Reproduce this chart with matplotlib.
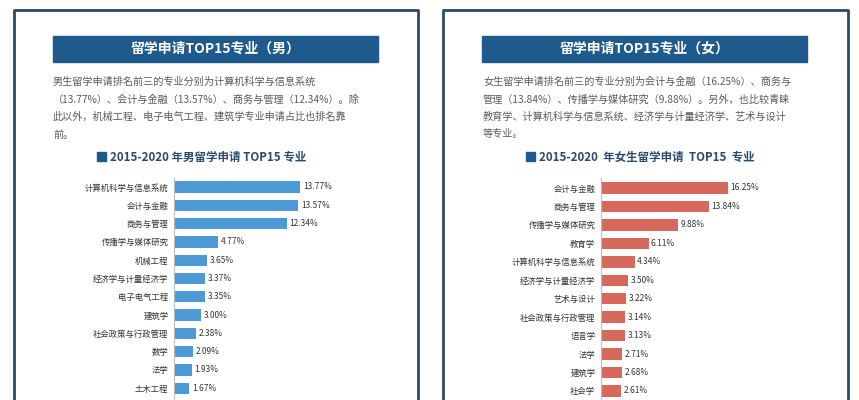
import matplotlib.pyplot as plt
from matplotlib import font_manager
from matplotlib.patches import Rectangle

# pick whatever CJK face is really there
cjk = [f.name for f in font_manager.fontManager.ttflist if 'CJK' in f.name]
fams = ['Noto Sans CJK SC', 'Noto Sans CJK JP'] + cjk + ['DejaVu Sans']
avail = {f.name for f in font_manager.fontManager.ttflist}
plt.rcParams['font.family'] = [f for f in fams if f in avail] or ['DejaVu Sans']

W, H = 859, 400

male_majors = ['计算机科学与信息系统', '会计与金融', '商务与管理', '传播学与媒体研究', '机械工程',
               '经济学与计量经济学', '电子电气工程', '建筑学', '社会政策与行政管理', '数学', '法学', '土木工程']
male_values = [13.77, 13.57, 12.34, 4.77, 3.65, 3.37, 3.35, 3.00, 2.38, 2.09, 1.93, 1.67]

female_majors = ['会计与金融', '商务与管理', '传播学与媒体研究', '教育学', '计算机科学与信息系统',
                 '经济学与计量经济学', '艺术与设计', '社会政策与行政管理', '语言学', '法学', '建筑学', '社会学']
female_values = [16.25, 13.84, 9.88, 6.11, 4.34, 3.50, 3.22, 3.14, 3.13, 2.71, 2.68, 2.61]

male_text = ['男生留学申请排名前三的专业分别为计算机科学与信息系统',
             '（13.77%）、会计与金融（13.57%）、商务与管理（12.34%）。除',
             '此以外，机械工程、电子电气工程、建筑学专业申请占比也排名靠',
             '前。']
female_text = ['女生留学申请排名前三的专业分别为会计与金融（16.25%）、商务与',
               '管理（13.84%）、传播学与媒体研究（9.88%）。另外，也比较青睐',
               '教育学、计算机科学与信息系统、经济学与计量经济学、艺术与设计',
               '等专业。']

fig = plt.figure(figsize=(W / 100, H / 100), dpi=100)
fig.patch.set_facecolor('white')
bg = fig.add_axes([0, 0, 1, 1])
bg.set_xlim(0, W)
bg.set_ylim(H, 0)
bg.axis('off')

DARK = '#1f5a8c'
GRAY = '#5a5a5a'


def panel(x0, x1, title, lines, subtitle, tx, sq):
    bg.plot([x0, x0, x1, x1], [H + 5, 10, 10, H + 5], color='#2d4a66', lw=2)
    bg.add_patch(Rectangle((x0 + 39, 36), 325, 26, color=DARK))
    bg.text((x0 + 39 + x0 + 364) / 2, 49, title, color='white', fontsize=10,
            fontweight='bold', ha='center', va='center')
    for i, ln in enumerate(lines):
        bg.text(tx, 82 + i * 17.5, ln, color=GRAY, fontsize=7.3, va='center')
    bg.add_patch(Rectangle((sq, 152), 9, 9, color=DARK))
    bg.text(sq + 13, 157, subtitle, color='#2a4a6a', fontsize=8.3,
            fontweight='bold', va='center')


panel(14, 418, '留学申请TOP15专业（男）', male_text, '2015-2020 年男留学申请 TOP15 专业', 53, 97)
panel(443, 848, '留学申请TOP15专业（女）', female_text, '2015-2020  年女生留学申请  TOP15  专业', 483, 526)


def bars(left, y0, step, pxper, names, vals, color):
    top, width = 178, 200
    ax = fig.add_axes([left / W, 0, width / W, (H - top) / H])
    ax.set_xlim(0, width / pxper)
    ax.set_ylim((H - y0) / step, (top - y0) / step)
    pos = list(range(len(vals)))
    ax.barh(pos, vals, height=0.62, color=color)
    for p, v in zip(pos, vals):
        ax.text(v + 0.3, p, f'{v:.2f}%', fontsize=6, color='#333333', va='center')
    ax.set_yticks(pos)
    ax.set_yticklabels(names, fontsize=6, color='#333333')
    ax.tick_params(axis='y', length=0, pad=4)
    ax.set_xticks([])
    for s in ['top', 'right', 'bottom']:
        ax.spines[s].set_visible(False)
    ax.spines['left'].set_color('#bbbbbb')
    ax.patch.set_alpha(0)


bars(174, 187, 18.3, 9.15, male_majors, male_values, '#4d9ad6')
bars(601, 188, 18.45, 7.8, female_majors, female_values, '#d6695c')

fig.savefig('out.png', dpi=100)
